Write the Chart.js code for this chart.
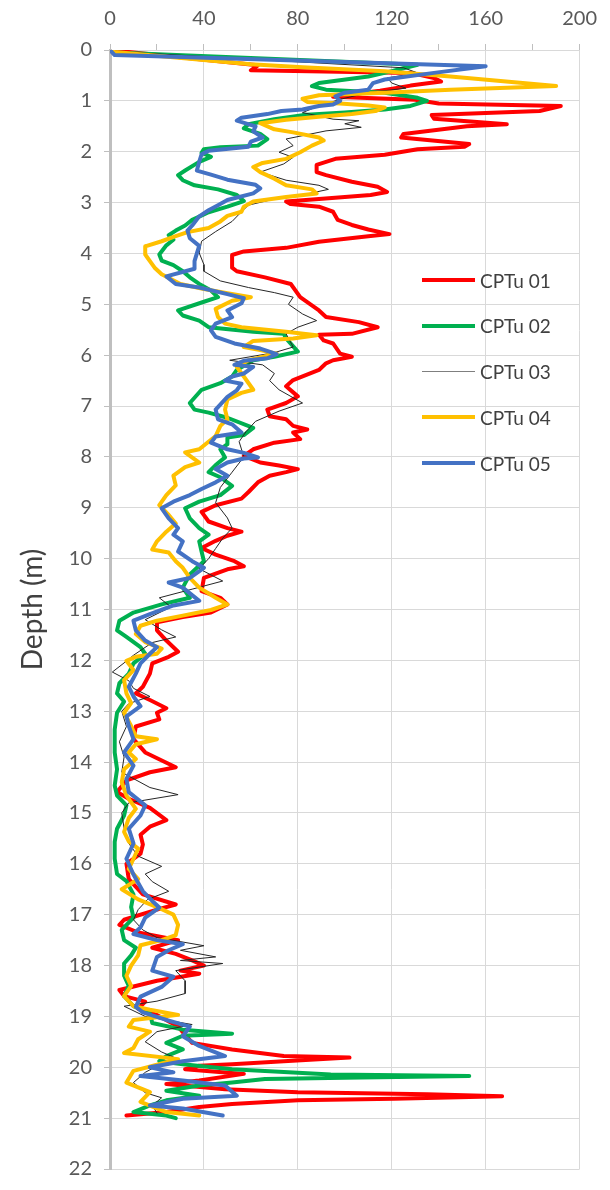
<!DOCTYPE html>
<html>
<head>
<meta charset="utf-8">
<script src="https://cdn.jsdelivr.net/npm/chart.js@4.4.1/dist/chart.umd.min.js"></script>
<style>
html,body{margin:0;padding:0;background:#ffffff;}
#wrap{position:relative;width:610px;height:1190px;overflow:hidden;}
canvas{display:block;}
#legend{position:absolute;left:0;top:0;width:610px;height:1190px;pointer-events:none;font-family:Lato,"Open Sans",sans-serif;font-size:19px;color:#404040;}
.lg-row{position:absolute;left:422px;height:20px;display:flex;align-items:center;}
.lg-line{width:53px;margin-right:5px;}
</style>
</head>
<body>
<div id="wrap">
<canvas id="chart" width="610" height="1190"></canvas>
<div id="legend"></div>
</div>
<script>
// ---- DATA: [depth (m), value] ----
const seriesNames = ["CPTu 01", "CPTu 02", "CPTu 03", "CPTu 04", "CPTu 05"];

const cptu01 = [[0,0],[0.04,8],[0.3,63],[0.4,60],[0.45,128],[0.55,138],[0.62,141],[0.7,128],[0.8,115],[0.92,95],[0.98,130],[1.05,140],[1.1,192],[1.2,183],[1.28,137],[1.35,138],[1.46,169],[1.5,152],[1.65,125],[1.72,124],[1.85,153],[1.9,151],[1.95,131],[2.06,117],[2.14,96],[2.26,88],[2.4,88],[2.46,92],[2.59,103],[2.69,114],[2.79,118],[2.85,111],[2.93,89],[2.98,75],[3.03,77],[3.08,89],[3.18,95],[3.34,97],[3.44,103],[3.53,110],[3.62,119],[3.66,110],[3.77,89],[3.89,75],[3.96,57],[4.03,52],[4.28,52],[4.35,54],[4.47,66],[4.6,77],[4.86,81],[5.12,89],[5.25,92],[5.35,106],[5.45,114],[5.58,103],[5.6,89],[5.71,91],[5.77,95],[5.97,98],[6.03,103],[6.1,95],[6.16,92],[6.29,89],[6.49,78],[6.61,75],[6.81,80],[6.94,75],[7.07,67],[7.2,68],[7.26,75],[7.39,78],[7.46,84],[7.52,78],[7.65,81],[7.72,70],[7.85,61],[7.98,57],[8.11,64],[8.17,72],[8.24,80],[8.3,75],[8.37,68],[8.5,63],[8.69,59],[8.82,56],[8.95,45],[9.08,39],[9.27,42],[9.4,50],[9.47,56],[9.55,50],[9.65,45],[9.79,39],[9.92,45],[10.05,53],[10.15,57],[10.21,50],[10.38,40],[10.64,39],[10.77,47],[10.9,50],[11.06,43],[11.15,31],[11.25,20],[11.41,20],[11.61,24],[11.83,29],[11.93,25],[12.06,18],[12.26,17],[12.52,14],[12.65,11],[12.78,17],[12.94,24],[13.03,20],[13.16,21],[13.3,11],[13.55,10],[13.81,15],[14.1,28],[14.2,17],[14.36,7],[14.59,3],[14.72,8],[14.9,17],[15.14,24],[15.27,17],[15.43,13],[15.62,14],[15.8,13],[16.0,7],[16.3,8],[16.6,14],[16.8,28],[16.9,20],[17.1,6],[17.2,4],[17.35,12],[17.5,29],[17.65,18],[17.77,28],[17.9,35],[18.0,40],[18.1,30],[18.16,38],[18.3,20],[18.48,4],[18.6,6],[18.71,15],[18.85,12],[18.97,20],[19.2,29],[19.52,35],[19.65,52],[19.78,74],[19.81,102],[19.88,74],[19.94,52],[19.97,38],[20.04,32],[20.13,57],[20.26,38],[20.33,24],[20.43,49],[20.49,80],[20.53,135],[20.57,167],[20.62,121],[20.65,80],[20.72,52],[20.78,38],[20.88,24],[20.95,7]];

const cptu02 = [[0,0],[0.05,2],[0.29,131],[0.36,125],[0.45,117],[0.52,110],[0.65,89],[0.71,86],[0.78,92],[0.84,117],[0.94,131],[1.0,135],[1.1,128],[1.17,117],[1.23,100],[1.28,82],[1.36,70],[1.46,59],[1.54,57],[1.65,64],[1.75,67],[1.88,63],[1.91,47],[1.95,40],[2.02,39],[2.1,43],[2.2,38],[2.37,32],[2.46,29],[2.56,31],[2.66,36],[2.74,46],[2.85,54],[2.97,57],[3.08,50],[3.19,42],[3.34,35],[3.45,32],[3.55,28],[3.64,25],[3.73,27],[3.84,24],[4.02,21],[4.14,22],[4.23,27],[4.35,31],[4.47,34],[4.6,38],[4.73,43],[4.86,46],[4.95,40],[5.12,29],[5.22,31],[5.32,38],[5.45,42],[5.54,61],[5.58,74],[5.67,75],[5.93,80],[6.03,70],[6.1,61],[6.29,54],[6.42,52],[6.55,47],[6.68,39],[6.94,34],[7.07,36],[7.13,42],[7.23,50],[7.43,61],[7.57,57],[7.62,50],[7.75,50],[7.85,47],[8.01,49],[8.16,45],[8.3,42],[8.4,47],[8.57,52],[8.75,47],[8.88,38],[9.01,32],[9.21,34],[9.4,38],[9.53,42],[9.66,38],[9.86,39],[10.05,40],[10.31,34],[10.57,31],[10.77,34],[10.9,22],[11.06,10],[11.22,4],[11.41,3],[11.54,7],[11.74,13],[11.87,15],[12.06,10],[12.26,8],[12.45,4],[12.65,3],[12.81,6],[13.03,3],[13.36,2],[13.81,2],[14.14,3],[14.46,2],[14.66,3],[14.85,7],[15.05,6],[15.31,3],[15.57,2],[15.9,2],[16.2,3],[16.34,7],[16.6,10],[16.85,9],[17.06,10],[17.3,5],[17.5,6],[17.65,11],[17.8,9],[17.96,6],[18.2,6],[18.4,8],[18.6,6],[18.8,10],[18.94,17],[19.13,18],[19.26,31],[19.34,52],[19.38,31],[19.52,24],[19.65,31],[19.78,24],[19.88,21],[19.94,31],[20.04,52],[20.14,94],[20.17,153],[20.2,107],[20.23,66],[20.3,52],[20.36,38],[20.46,24],[20.56,38],[20.65,24],[20.75,17],[20.88,10],[20.95,24],[21.0,28]];

const cptu03 = [[0,0],[0.03,2],[0.35,125],[0.45,131],[0.55,118],[0.65,120],[0.75,126],[0.84,110],[0.97,98],[1.1,89],[1.23,82],[1.36,95],[1.39,106],[1.45,100],[1.52,107],[1.59,92],[1.75,75],[1.88,78],[2.01,72],[2.11,78],[2.24,74],[2.4,64],[2.56,75],[2.66,89],[2.74,93],[2.85,82],[2.93,70],[3.05,59],[3.18,56],[3.37,52],[3.57,45],[3.76,39],[3.99,38],[4.22,40],[4.35,40],[4.54,47],[4.67,59],[4.77,70],[4.86,78],[5.0,76],[5.19,82],[5.32,88],[5.45,80],[5.58,75],[5.84,78],[5.95,70],[6.1,51],[6.19,65],[6.36,70],[6.5,68],[6.68,72],[6.94,82],[7.1,72],[7.3,62],[7.5,58],[7.7,55],[8.0,57],[8.3,52],[8.6,47],[8.9,45],[9.2,50],[9.4,52],[9.6,48],[9.8,45],[10.0,42],[10.2,38],[10.44,48],[10.6,35],[10.77,21],[10.95,26],[11.2,15],[11.4,22],[11.54,28],[11.65,18],[11.9,10],[12.05,6],[12.23,1],[12.4,8],[12.55,10],[12.71,17],[12.85,8],[13.0,5],[13.3,7],[13.6,4],[13.9,6],[14.2,5],[14.5,17],[14.64,29],[14.8,8],[15.0,5],[15.3,6],[15.6,8],[15.85,12],[16.05,22],[16.2,15],[16.35,18],[16.54,25],[16.7,16],[16.9,12],[17.1,10],[17.3,14],[17.45,20],[17.61,40],[17.7,30],[17.83,45],[17.9,30],[17.96,48],[18.1,28],[18.3,32],[18.55,32],[18.7,20],[18.8,6],[19.0,15],[19.16,35],[19.3,20],[19.5,15],[19.7,22],[19.84,29],[19.95,21],[20.1,15],[20.3,10],[20.5,15],[20.6,22],[20.75,18],[20.9,20]];

const cptu04 = [[0,0],[0.04,2],[0.28,60],[0.34,82],[0.42,117],[0.52,145],[0.71,190],[0.78,145],[0.84,117],[0.89,89],[0.96,82],[1.02,84],[1.05,98],[1.09,110],[1.13,117],[1.2,113],[1.26,103],[1.31,89],[1.37,75],[1.44,64],[1.56,70],[1.62,78],[1.72,89],[1.78,91],[1.88,86],[2.01,81],[2.14,75],[2.22,65],[2.3,61],[2.4,64],[2.53,70],[2.66,75],[2.74,86],[2.82,88],[2.89,75],[2.98,61],[3.08,57],[3.18,56],[3.26,50],[3.37,47],[3.5,42],[3.58,33],[3.66,28],[3.76,22],[3.86,15],[4.02,15],[4.15,17],[4.28,19],[4.41,22],[4.6,30],[4.7,40],[4.78,50],[4.86,60],[4.93,52],[5.09,45],[5.25,46],[5.38,49],[5.45,56],[5.54,75],[5.61,88],[5.67,78],[5.72,61],[5.84,57],[5.9,64],[5.97,71],[6.1,59],[6.23,54],[6.42,57],[6.68,61],[6.74,56],[6.87,50],[7.07,49],[7.26,50],[7.39,47],[7.59,45],[7.85,38],[7.91,32],[8.11,38],[8.2,32],[8.37,27],[8.56,28],[8.75,24],[8.95,21],[9.14,25],[9.31,28],[9.47,24],[9.66,20],[9.82,18],[9.88,25],[10.05,28],[10.18,31],[10.38,34],[10.57,38],[10.77,45],[10.9,50],[11.01,43],[11.12,31],[11.22,20],[11.32,13],[11.48,11],[11.64,15],[11.77,22],[11.87,20],[11.93,11],[12.01,7],[12.19,10],[12.39,6],[12.65,7],[12.84,9],[13.03,6],[13.29,9],[13.49,11],[13.55,20],[13.65,11],[13.81,8],[13.94,11],[14.14,6],[14.4,5],[14.66,7],[14.92,11],[15.1,8],[15.37,6],[15.56,8],[15.7,12],[15.9,10],[16.1,8],[16.3,12],[16.5,5],[16.7,12],[16.85,20],[17.0,27],[17.2,29],[17.4,28],[17.5,22],[17.6,13],[17.8,12],[18.0,9],[18.2,7],[18.4,9],[18.6,6],[18.8,10],[18.87,17],[18.97,29],[19.07,10],[19.2,8],[19.3,17],[19.45,12],[19.62,10],[19.72,6],[19.84,29],[19.95,20],[20.07,10],[20.3,7],[20.49,17],[20.68,13],[20.88,24],[20.95,38]];

const cptu05 = [[0,0],[0.1,2],[0.32,160],[0.45,138],[0.58,117],[0.65,112],[0.78,110],[0.84,100],[0.91,96],[1.0,98],[1.07,95],[1.1,89],[1.17,82],[1.2,73],[1.26,67],[1.33,56],[1.39,54],[1.5,62],[1.6,61],[1.72,65],[1.8,60],[1.9,59],[1.98,42],[2.05,39],[2.2,38],[2.37,37],[2.45,43],[2.55,50],[2.65,62],[2.72,64],[2.82,61],[2.95,50],[3.05,46],[3.15,42],[3.27,38],[3.45,35],[3.55,33],[3.7,34],[3.85,38],[4.0,37],[4.15,36],[4.3,36],[4.45,24],[4.6,28],[4.67,38],[4.8,50],[4.88,57],[4.98,56],[5.12,50],[5.25,52],[5.38,45],[5.51,43],[5.64,45],[5.77,53],[5.87,64],[5.98,71],[6.06,67],[6.11,57],[6.19,53],[6.23,61],[6.36,57],[6.42,52],[6.5,49],[6.56,56],[6.69,54],[6.82,50],[7.07,45],[7.26,46],[7.36,52],[7.52,56],[7.6,45],[7.72,43],[7.85,50],[7.92,57],[8.01,63],[8.03,57],[8.11,50],[8.24,45],[8.37,50],[8.5,45],[8.63,39],[8.75,34],[8.88,27],[9.01,22],[9.21,25],[9.4,29],[9.53,27],[9.66,31],[9.86,29],[10.05,35],[10.18,40],[10.38,34],[10.47,25],[10.57,31],[10.83,38],[10.92,27],[11.09,17],[11.22,10],[11.41,11],[11.61,15],[11.74,20],[11.87,17],[12.06,13],[12.26,11],[12.52,8],[12.71,10],[12.9,13],[13.1,7],[13.29,8],[13.55,10],[13.81,6],[14.07,10],[14.33,7],[14.59,8],[14.85,15],[15.05,13],[15.31,8],[15.6,10],[15.9,7],[16.21,10],[16.54,14],[16.73,18],[16.86,21],[17.06,15],[17.25,13],[17.38,10],[17.5,20],[17.58,31],[17.7,25],[17.83,20],[18.1,18],[18.22,27],[18.42,22],[18.61,13],[18.81,11],[18.92,14],[19.07,24],[19.2,34],[19.39,31],[19.58,38],[19.78,49],[19.88,31],[20.0,17],[20.1,27],[20.17,13],[20.26,31],[20.36,49],[20.56,54],[20.62,31],[20.75,17],[20.81,31],[20.95,48]];

const xTickStep = 20;      // minor tick marks every 20, labels every 40
const xLabelStep = 40;
const xRange = [0, 200];
const depthRange = [0, 22];
const depthStep = 1;
const yTitle = "Depth (m)";

// ---- styles ----
const seriesColors = ["#ff0000", "#00b050", "#262626", "#ffc000", "#4472c4"];
const seriesWidths = [4, 4, 1, 4, 4];
const allSeries = [cptu01, cptu02, cptu03, cptu04, cptu05];
const FONT = 'Lato, "Open Sans", sans-serif';

const datasets = allSeries.map((s, i) => ({
  label: seriesNames[i],
  data: s.map(p => ({ x: p[1], y: p[0] })),
  borderColor: seriesColors[i],
  backgroundColor: seriesColors[i],
  borderWidth: seriesWidths[i],
  showLine: true,
  pointRadius: 0,
  pointHoverRadius: 0,
  tension: 0,
  borderJoinStyle: 'round',
  borderCapStyle: 'round',
  order: allSeries.length - i
}));

new Chart(document.getElementById('chart'), {
  type: 'scatter',
  data: { datasets },
  options: {
    responsive: false,
    animation: false,
    devicePixelRatio: 1,
    layout: { padding: { left: 0, right: 22, top: 0, bottom: 9 } },
    plugins: { legend: { display: false }, tooltip: { enabled: false } },
    scales: {
      x: {
        type: 'linear', position: 'top',
        min: xRange[0], max: xRange[1],
        ticks: {
          stepSize: xTickStep, autoSkip: false, maxRotation: 0,
          callback: v => (v % xLabelStep === 0 ? String(v) : ''),
          color: '#595959', font: { family: FONT, size: 20 }, padding: 13
        },
        grid: {
          color: c => (c.tick && c.tick.value % xLabelStep === 0) ? '#d9d9d9' : 'rgba(0,0,0,0)',
          tickColor: '#bfbfbf', tickLength: 6, lineWidth: 1
        },
        border: { color: '#d9d9d9', width: 1 },
        afterFit: s => { s.height = 50; }
      },
      y: {
        type: 'linear', reverse: true,
        min: depthRange[0], max: depthRange[1],
        ticks: {
          stepSize: depthStep, autoSkip: false,
          color: '#595959', font: { family: FONT, size: 20, lineHeight: 0.9 }, padding: 12
        },
        grid: { color: '#d9d9d9', tickColor: '#bfbfbf', tickLength: 6, lineWidth: 1 },
        border: { color: '#bfbfbf', width: 3 },
        title: {
          display: true, text: yTitle, color: '#404040',
          font: { family: FONT, size: 28, lineHeight: 1.2 }, padding: { top: 16, bottom: 0 }
        },
        afterFit: s => { s.width = 110; }
      }
    }
  }
});

// ---- legend (inside plot area, as in the reference) ----
const legend = document.getElementById('legend');
const legendTop = 270, legendGap = 45.8;
seriesNames.forEach((name, i) => {
  const row = document.createElement('div');
  row.className = 'lg-row';
  row.style.top = (legendTop + i * legendGap) + 'px';
  const ln = document.createElement('div');
  ln.className = 'lg-line';
  ln.style.height = seriesWidths[i] + 'px';
  ln.style.background = seriesWidths[i] === 1 ? '#7f7f7f' : seriesColors[i];
  const tx = document.createElement('span');
  tx.textContent = name;
  row.appendChild(ln);
  row.appendChild(tx);
  legend.appendChild(row);
});
</script>
</body>
</html>
